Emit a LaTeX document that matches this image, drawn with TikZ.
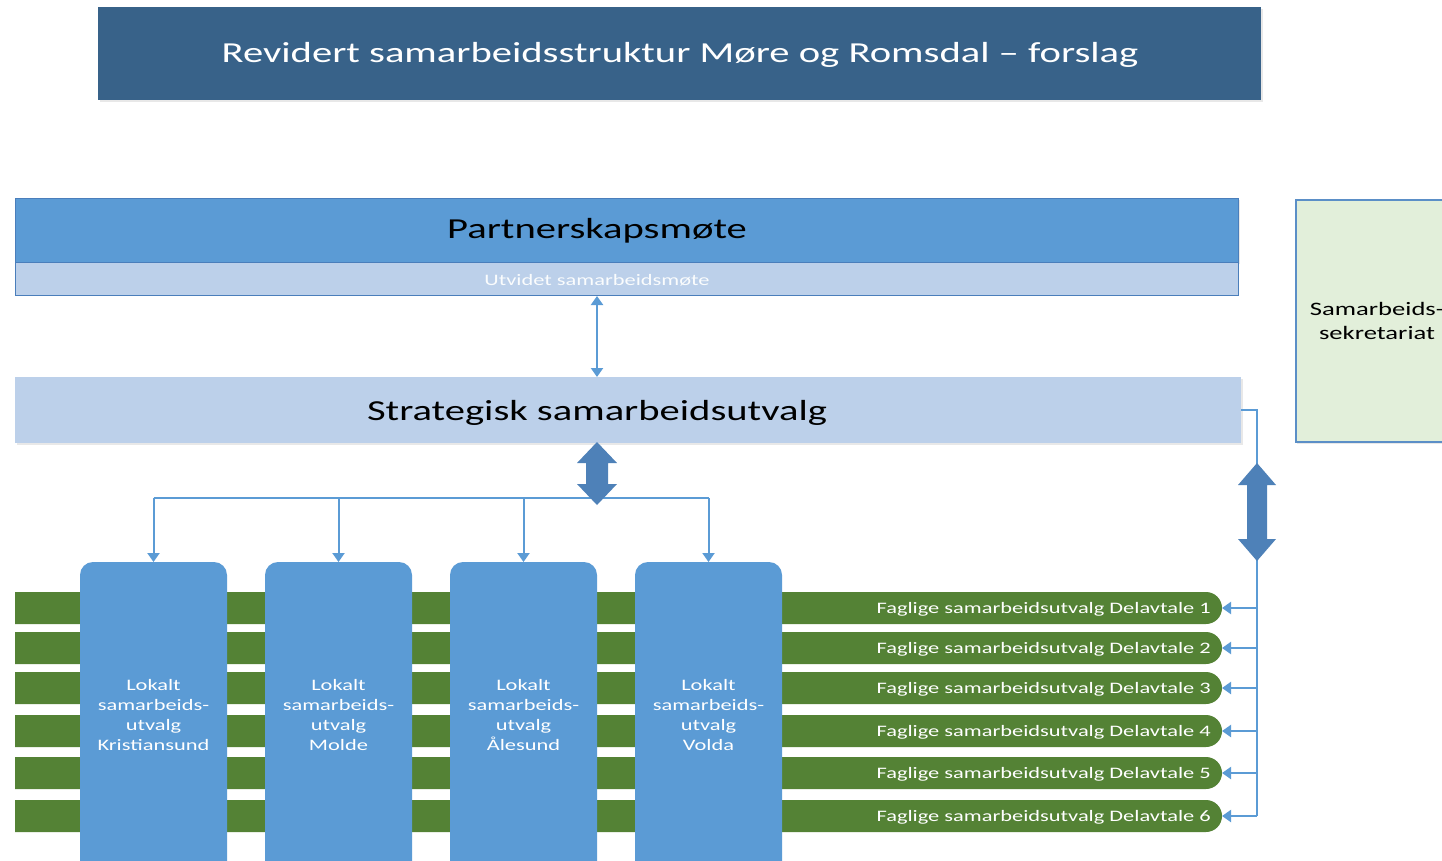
\documentclass[tikz,border=0pt]{standalone}
\usepackage{fontspec}
\setmainfont{Carlito}[FakeStretch=1.4]
\usetikzlibrary{arrows.meta,shadows}
\definecolor{titleblue}{HTML}{386289}
\definecolor{boxblue}{HTML}{5B9BD5}
\definecolor{lightblue}{HTML}{BCD0EA}
\definecolor{thickblue}{HTML}{4E81B8}
\definecolor{lineblue}{HTML}{5B9BD5}
\definecolor{barg}{HTML}{548235}
\definecolor{secfill}{HTML}{E2EFDA}
\definecolor{secline}{HTML}{5B8FC7}
\definecolor{edgeblue}{HTML}{4A7EBB}
\tikzset{
  fs/.style={font=\fontsize{#1}{#1}\selectfont},
  conn/.style={draw=lineblue, line width=2pt},
  tip/.tip={Triangle[width=12pt,length=9pt]},
  softshadow/.style={drop shadow={opacity=0.18, shadow xshift=1.5pt, shadow yshift=-2pt}},
  bartext/.style={text=white, anchor=east, fs=16, inner sep=0pt},
  loctext/.style={text=white, align=center, font=\fontsize{16}{20}\selectfont, inner sep=0pt},
}
\begin{document}
\begin{tikzpicture}[x=1pt,y=-1pt]
\useasboundingbox[fill=white] (0,0) rectangle (1442,860);

% title
\node[fill=titleblue, softshadow, minimum width=1163pt, minimum height=93pt, anchor=north west] (title) at (98,7) {};
\node[text=white, fs=29, inner sep=0pt] (titletext) at (680,55) {Revidert samarbeidsstruktur Møre og Romsdal – forslag};

% partnerskapsmøte
\node[fill=boxblue, draw=edgeblue, line width=0.8pt, softshadow, minimum width=1223pt, minimum height=64pt, anchor=north west, inner sep=0pt] (partner) at (15,198) {};
\node[fs=29, inner sep=0pt] (partnertext) at (597,231) {Partnerskapsmøte};
\node[fill=lightblue, draw=edgeblue, line width=0.8pt, minimum width=1223pt, minimum height=33pt, anchor=north west, inner sep=0pt] (utv) at (15,262) {};
\node[fs=16, text=white!93!lightblue, inner sep=0pt] (utvtext) at (597,280) {Utvidet samarbeidsmøte};

% strategisk
\node[fill=lightblue, softshadow, minimum width=1226pt, minimum height=66pt, anchor=north west, inner sep=0pt] (strat) at (15,377) {};
\node[fs=29, inner sep=0pt] (strattext) at (597,413) {Strategisk samarbeidsutvalg};

% sekretariat
\node[fill=secfill, draw=secline, line width=1.5pt, softshadow, minimum width=164pt, minimum height=242pt, anchor=north west, inner sep=0pt] (sek) at (1295,199) {};
\node[align=center, font=\fontsize{19}{24}\selectfont, inner sep=0pt] (sektext) at (1377,321) {Samarbeids-\\sekretariat};

% connector partner <-> strategisk
\coordinate (pc) at (597,296);
\coordinate (sc) at (597,377);
\draw[conn, tip-tip] (pc) -- (sc);

% green bars
\foreach \i/\yt/\txt in {1/592/Delavtale 1, 2/632/Delavtale 2, 3/672/Delavtale 3, 4/715/Delavtale 4, 5/757/Delavtale 5, 6/800/Delavtale 6}{
  \fill[barg] (15,\yt) [rounded corners=16pt] -- (1222,\yt) -- (1222,\yt+32) [sharp corners] -- (15,\yt+32) -- cycle;
  \coordinate (bar\i) at (1222,\yt+16);
  \coordinate (rv\i) at (1257,\yt+16);
  \node[bartext] (bt\i) at (1211,\yt+17) {Faglige samarbeidsutvalg \txt};
}

% local boxes
\foreach \i/\xl/\name in {1/80/Kristiansund, 2/265/Molde, 3/450/Ålesund, 4/635/Volda}{
  \fill[boxblue] (\xl,880) [rounded corners=13pt] -- (\xl,562) -- (\xl+147,562) [sharp corners] -- (\xl+147,880) -- cycle;
  \coordinate (top\i) at (\xl+73.5,562);
  \node[loctext] (loc\i) at (\xl+73.5,715) {Lokalt\\samarbeids-\\utvalg\\\name};
}

% tree from strategisk
\coordinate (tl) at (153.5,498);
\coordinate (tr) at (708.5,498);
\draw[conn] (tl) -- (tr);
\foreach \i in {1,2,3,4}{
  \draw[conn, -tip] (top\i |- tl) -- (top\i);
}

% right trunk
\draw[conn] (strat.east) -| (rv6);
\foreach \i in {1,...,6}{
  \draw[conn, -tip] (rv\i) -- (bar\i);
}

% thick double arrows
\fill[thickblue] (597,442) -- (617,463) -- (608,463) -- (608,484) -- (617,484) -- (597,505) -- (577,484) -- (586,484) -- (586,463) -- (577,463) -- cycle;
\fill[thickblue] (1257,463) -- (1276,485) -- (1267,485) -- (1267,539) -- (1276,539) -- (1257,561) -- (1238,539) -- (1247,539) -- (1247,485) -- (1238,485) -- cycle;
\end{tikzpicture}
\end{document}
